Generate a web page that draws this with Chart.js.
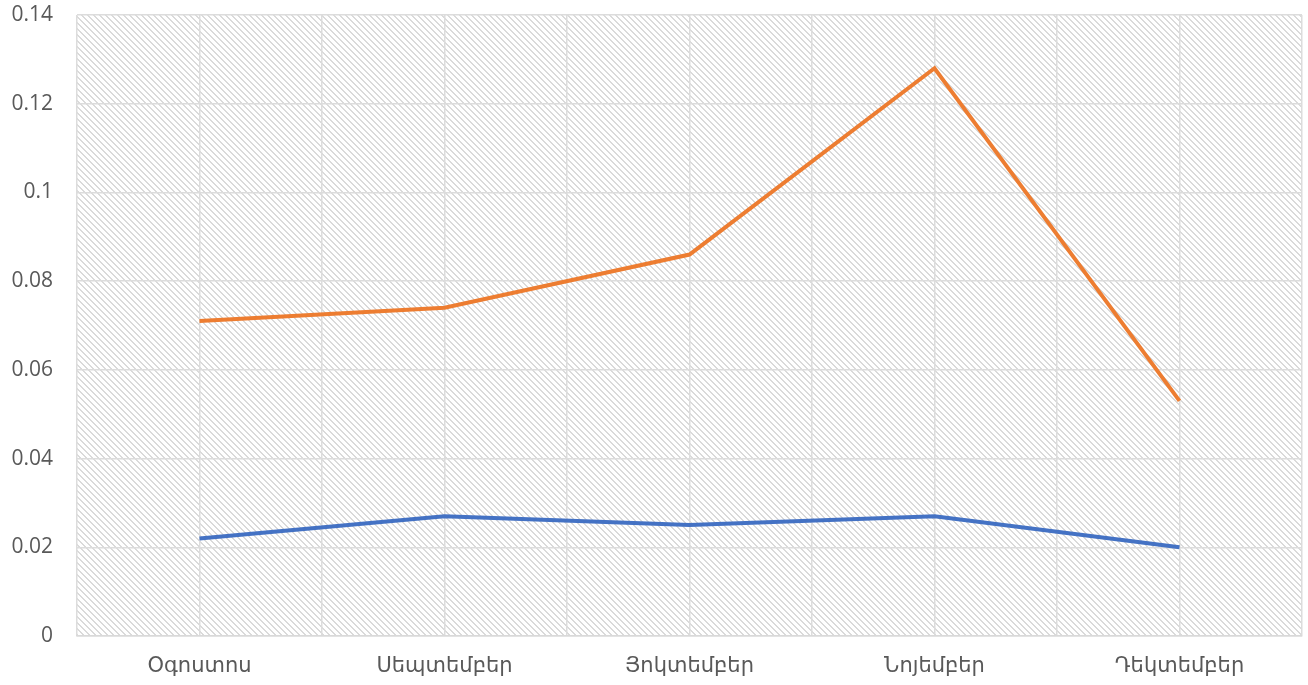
<!DOCTYPE html>
<html lang="hy">

<head>
    <meta charset="UTF-8">
    <title>chart</title>
    <style>
        html, body { margin: 0; padding: 0; background: #fff; }
        #wrap { width: 1308px; height: 685px; position: relative; }
    </style>
</head>

<body>
    <div id="wrap">
        <canvas id="linechart"></canvas>
    </div>
    <script src="https://cdn.jsdelivr.net/npm/chart.js"></script>
    <script>
        // data
        const months = ['Օգոստոս', 'Սեպտեմբեր', 'Յոկտեմբեր', 'Նոյեմբեր', 'Դեկտեմբեր']
        const seriesBlue = [0.022, 0.027, 0.025, 0.027, 0.020]
        const seriesOrange = [0.071, 0.074, 0.086, 0.128, 0.053]
        const yTicks = [0, 0.02, 0.04, 0.06, 0.08, 0.1, 0.12, 0.14]

        const fontFamily = "'Open Sans', 'DejaVu Sans', sans-serif"

        // hatch pattern for the plot area
        function makeHatch() {
            const size = 6
            const c = document.createElement('canvas')
            c.width = size
            c.height = size
            const g = c.getContext('2d')
            g.fillStyle = '#ffffff'
            g.fillRect(0, 0, size, size)
            g.fillStyle = '#dadada'
            for (let y = 0; y < size; y++) {
                for (let k = 0; k < 2; k++) {
                    g.fillRect((y + k) % size, y, 1, 1)
                }
            }
            return g.createPattern(c, 'repeat')
        }

        const hatchBg = {
            id: 'hatchBg',
            beforeDraw(chart) {
                const { ctx, chartArea } = chart
                ctx.save()
                ctx.fillStyle = makeHatch()
                ctx.fillRect(chartArea.left, chartArea.top, chartArea.right - chartArea.left, chartArea.bottom - chartArea.top)
                ctx.restore()
            }
        }

        const toPoints = arr => arr.map((v, i) => ({ x: i, y: v }))

        const ctx = document.getElementById('linechart').getContext('2d')
        new Chart(ctx, {
            type: 'line',
            data: {
                datasets: [
                    {
                        label: 'blue',
                        data: toPoints(seriesBlue),
                        borderColor: '#4472C4',
                        borderWidth: 4,
                        pointRadius: 0,
                        fill: false
                    },
                    {
                        label: 'orange',
                        data: toPoints(seriesOrange),
                        borderColor: '#ED7D31',
                        borderWidth: 4,
                        pointRadius: 0,
                        fill: false
                    }]
            },
            options: {
                responsive: true,
                maintainAspectRatio: false,
                animation: false,
                layout: { padding: { top: 15, right: 6, left: 0, bottom: 0 } },
                plugins: {
                    legend: { display: false },
                    tooltip: { enabled: false }
                },
                scales: {
                    x: {
                        type: 'linear',
                        min: -0.5,
                        max: months.length - 0.5,
                        afterBuildTicks: scale => {
                            const t = []
                            for (let v = -0.5; v <= months.length - 0.5 + 1e-9; v += 0.5) t.push({ value: v })
                            scale.ticks = t
                        },
                        afterFit: scale => {
                            scale.height = 49
                            scale.paddingLeft = 0
                            scale.paddingRight = 0
                        },
                        grid: { color: '#dcdcdc', lineWidth: 1.5, drawTicks: false },
                        border: { color: '#d9d9d9', width: 1.5 },
                        ticks: {
                            autoSkip: false,
                            maxRotation: 0,
                            padding: 17,
                            color: '#595959',
                            font: { family: fontFamily, size: 21 },
                            callback: v => Number.isInteger(v) ? months[v] : ''
                        }
                    },
                    y: {
                        min: 0,
                        max: 0.14,
                        afterBuildTicks: scale => { scale.ticks = yTicks.map(v => ({ value: v })) },
                        afterFit: scale => {
                            scale.width = 77
                            scale.paddingTop = 0
                            scale.paddingBottom = 0
                        },
                        grid: { color: '#dcdcdc', lineWidth: 1.5, drawTicks: false },
                        border: { display: false },
                        ticks: {
                            padding: 24,
                            color: '#595959',
                            font: { family: fontFamily, size: 21 },
                            callback: v => String(v)
                        }
                    }
                }
            },
            plugins: [hatchBg]
        })
    </script>

</body>

</html>
